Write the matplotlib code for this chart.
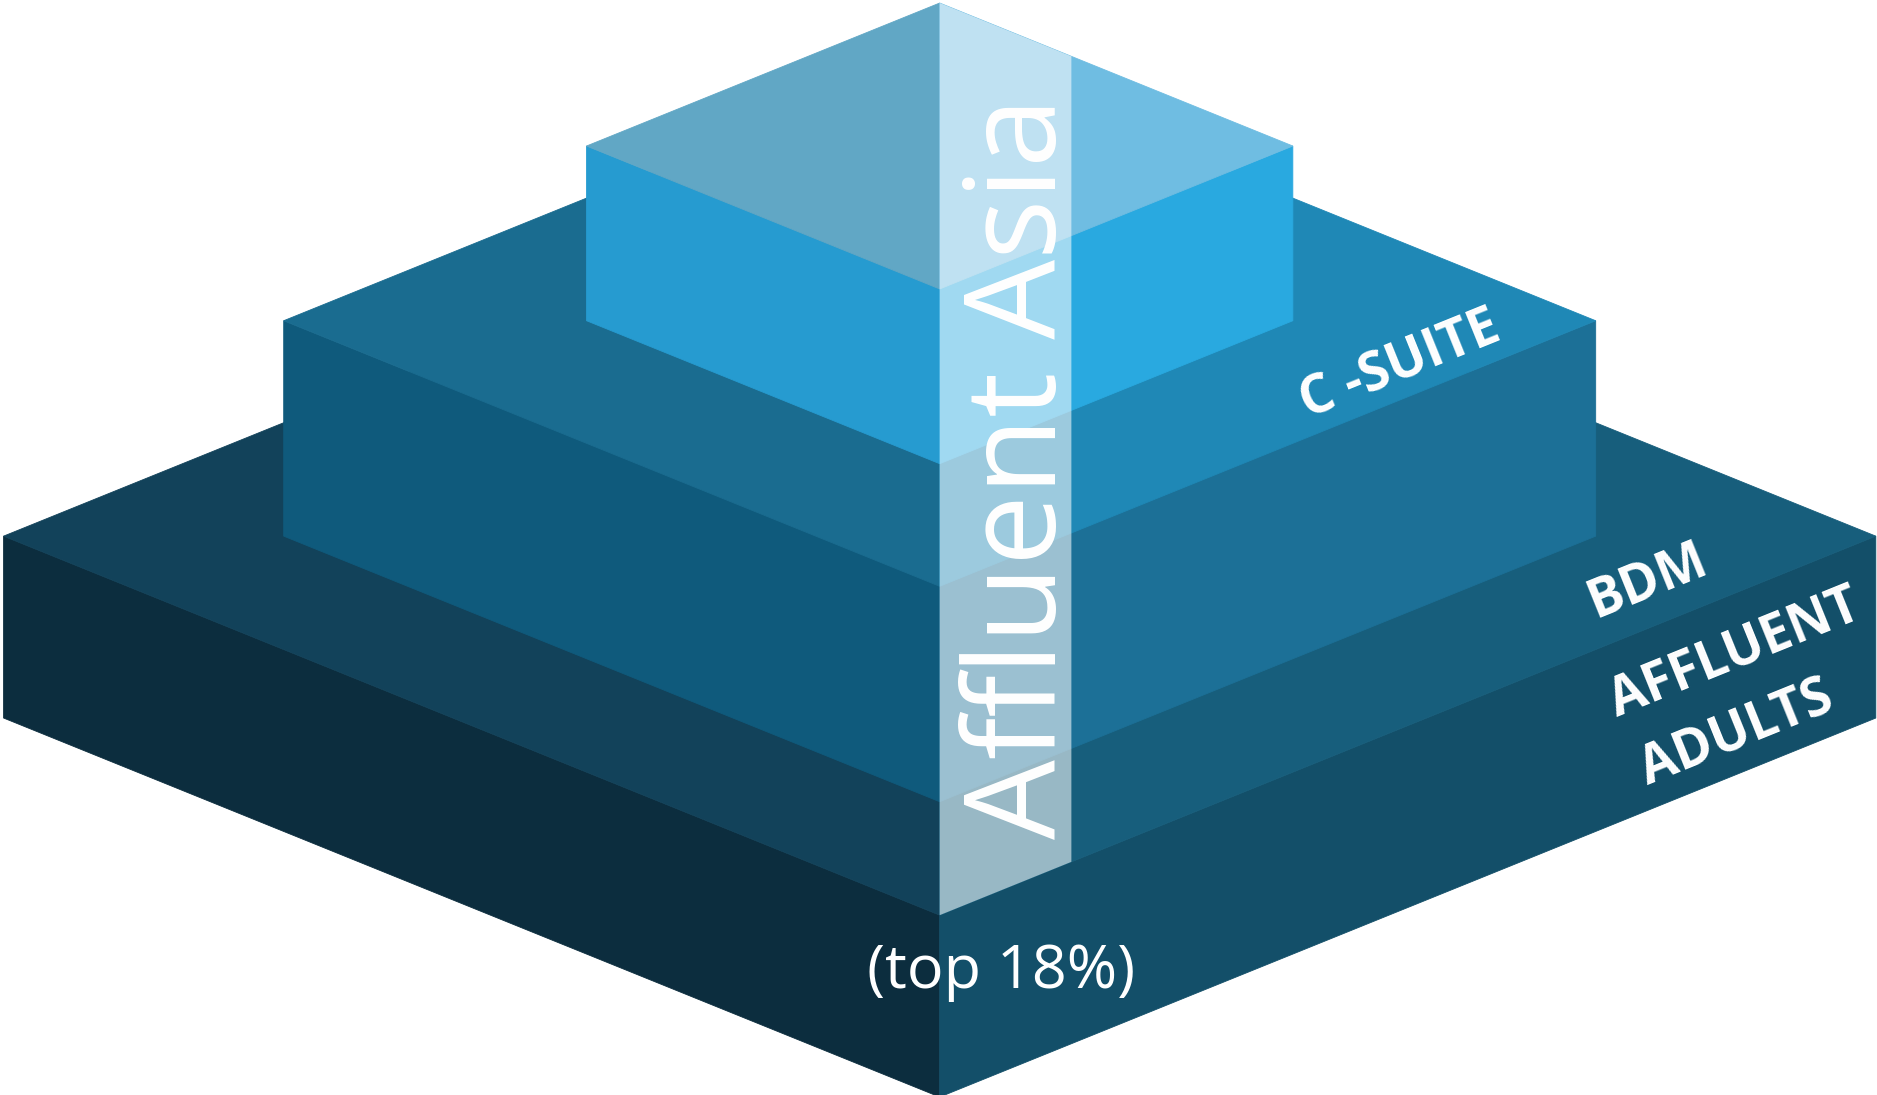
import matplotlib.pyplot as plt
from matplotlib.patches import Polygon
import math

# stepped pyramid, tiers from bottom to top (canvas units 1568 x 915)
half_widths = [782, 548, 295]
heights = [152, 180, 146]
left_face = ['#0c2d3e', '#0f5a7c', '#269bd0']
right_face = ['#134f69', '#1c7097', '#29a9e0']
top_left = ['#12425a', '#1a6c90', '#61a7c5']
top_right = ['#175e7c', '#1f88b6', '#6fbde2']

title = "Affluent Asia"
subtitle = "(top 18%)"
tier_labels = ["BDM", "AFFLUENT", "ADULTS", "C -SUITE"]

cx = 785
base_y = 600
slope = 0.405
band_w = 110
ang = math.degrees(math.atan(slope))
font = 'Open Sans'

fig = plt.figure(figsize=(18.77, 10.95), dpi=100)
ax = fig.add_axes([0, 0, 1, 1])
ax.set_xlim(0, 1568)
ax.set_ylim(915, 0)
ax.axis('off')

yb = base_y
tops = []
for i in range(len(half_widths)):
    w = half_widths[i]
    h = heights[i]
    yt = yb - h
    d = w*slope
    L = (cx-w, yt); F = (cx, yt+d); R = (cx+w, yt); B = (cx, yt-d)
    kw = dict(lw=0.6, joinstyle='miter')
    ax.add_patch(Polygon([L, F, (cx, yt+d+h), (cx-w, yt+h)], fc=left_face[i], ec=left_face[i], **kw))
    ax.add_patch(Polygon([F, R, (cx+w, yt+h), (cx, yt+d+h)], fc=right_face[i], ec=right_face[i], **kw))
    ax.add_patch(Polygon([L, B, F], fc=top_left[i], ec=top_left[i], **kw))
    ax.add_patch(Polygon([B, R, F], fc=top_right[i], ec=top_right[i], **kw))
    tops.append((yt, d))
    yb = yt

# translucent band
apex = tops[-1][0] - tops[-1][1]
front1 = tops[0][0] + tops[0][1]
band = [(cx, apex), (cx+band_w, apex+band_w*slope),
        (cx+band_w, front1-band_w*slope), (cx, front1)]
ax.add_patch(Polygon(band, fc='white', ec='none', alpha=0.56))

ax.text(855, 391, title, rotation=90, ha='center', va='center', color='white',
        fontsize=91, family=font)
ax.text(836, 812, subtitle, ha='center', va='center', color='white',
        fontsize=44, family=font)

lab_kw = dict(rotation=ang, rotation_mode='anchor', ha='center', va='center',
              color='white', fontsize=38, fontweight='bold', family=font)
ax.text(1376, 486, tier_labels[0], **lab_kw)
ax.text(1449, 546, tier_labels[1], **lab_kw)
ax.text(1451, 614, tier_labels[2], **lab_kw)
ax.text(1170, 306, tier_labels[3], **lab_kw)

fig.savefig('out.png', dpi=100, facecolor='white')
